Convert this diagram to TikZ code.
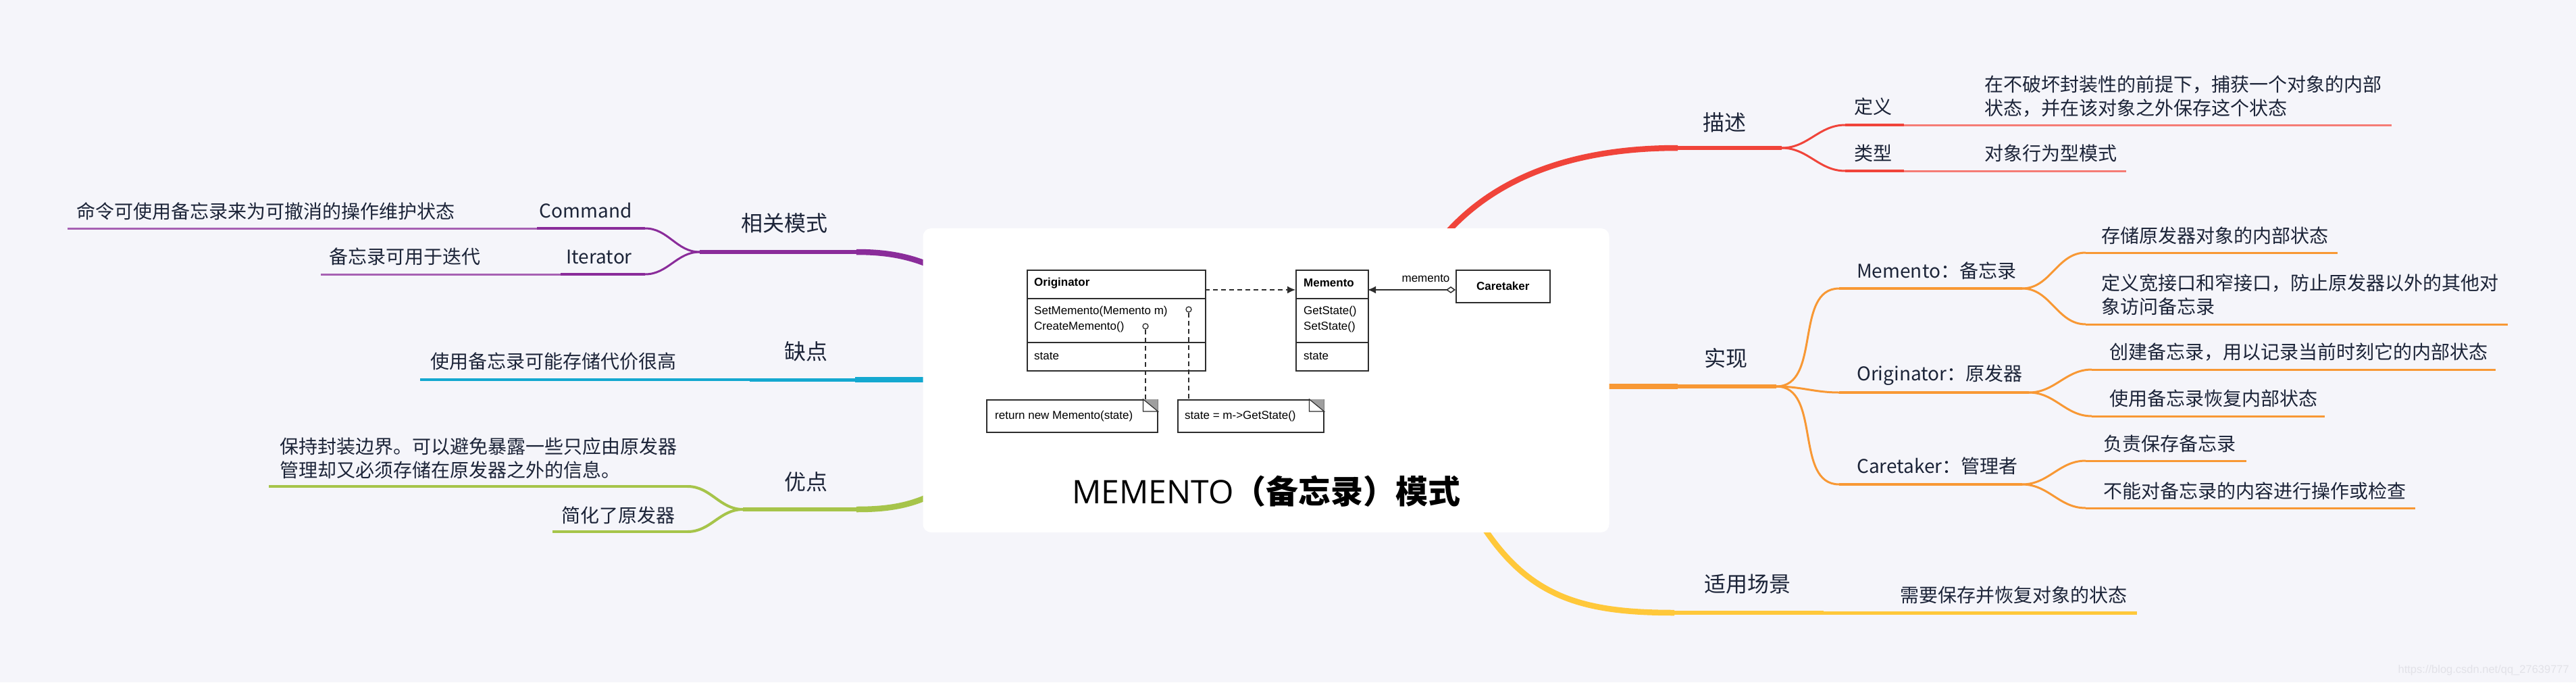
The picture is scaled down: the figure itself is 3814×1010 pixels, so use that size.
\documentclass[tikz,border=0pt]{standalone}
\usepackage{fontspec}
\setmainfont{Noto Sans CJK SC}
\newfontfamily\umlfont{Liberation Sans}
\newfontfamily\titlelatfont{Open Sans}
\usetikzlibrary{arrows.meta,calc}
\definecolor{bgc}{RGB}{245,245,250}
\definecolor{txt}{RGB}{28,36,56}
\definecolor{cred}{RGB}{240,68,58}
\definecolor{corange}{RGB}{248,152,52}
\definecolor{cyellow}{RGB}{255,200,58}
\definecolor{cgreen}{RGB}{166,196,74}
\definecolor{ccyan}{RGB}{20,168,208}
\definecolor{cpurple}{RGB}{138,44,154}
\definecolor{umlc}{RGB}{45,45,45}
\definecolor{wmark}{RGB}{226,226,232}
\begin{document}
\begin{tikzpicture}[x=1pt,y=-1pt,
  mainbr/.style={line width=8.5pt},
  topicbr/.style={line width=5.5pt},
  subbr/.style={line width=4.5pt},
  forkbr/.style={line width=3pt},
  leafbr/.style={line width=3pt},
  topictxt/.style={text=txt, inner sep=0pt, font=\fontsize{32}{38}\selectfont},
  subtxt/.style={text=txt, inner sep=0pt, font=\fontsize{28}{35}\selectfont},
  leaftxt/.style={text=txt, inner sep=0pt, font=\fontsize{28}{35}\selectfont, align=left},
  umlbox/.style={draw=umlc, line width=1.5pt, fill=white, inner sep=0pt, anchor=north west},
  umltxt/.style={text=black, inner sep=0pt, anchor=west, font=\umlfont\fontsize{17}{20}\selectfont},
  umlbold/.style={text=black, inner sep=0pt, font=\umlfont\bfseries\fontsize{17}{20}\selectfont},
  umlline/.style={draw=umlc, line width=1.5pt},
  umldash/.style={draw=umlc, line width=1.3pt, dash pattern=on 7pt off 5pt},
]
\useasboundingbox (0,0) rectangle (3814,1010);
\fill[bgc] (0,0) rectangle (3814,1010);

% ---------------- right side: 描述 (red)
\coordinate (rS) at (2120,372);
\coordinate (rA) at (2484,219);
\coordinate (rF) at (2638,219);
\coordinate (dy0) at (2732,185);
\coordinate (dy1) at (2819,185);
\coordinate (dyL) at (3541,185);
\coordinate (lx0) at (2732,253);
\coordinate (lx1) at (2819,253);
\coordinate (lxL) at (3148,253);
\draw[mainbr,cred] (rS) .. controls (2200,262) and (2330,219) .. (rA);
\draw[topicbr,cred] (rA) -- (rF);
\draw[forkbr,cred] (rF) to[out=0,in=180] (dy0);
\draw[forkbr,cred] (rF) to[out=0,in=180] (lx0);
\draw[subbr,cred] (dy0) -- (dy1);
\draw[subbr,cred] (lx0) -- (lx1);
\draw[leafbr,cred!70] (dy1) -- (dyL);
\draw[leafbr,cred!70] (lx1) -- (lxL);
\node[topictxt] (msT) at (2553,181) {描述};
\node[subtxt] (dyT) at (2773,158) {定义};
\node[subtxt] (lxT) at (2773,227) {类型};
\node[leaftxt, anchor=west] (dyLT) at (2938,143) {在不破坏封装性的前提下，捕获一个对象的内部\\状态，并在该对象之外保存这个状态};
\node[leaftxt, anchor=west] (lxLT) at (2938,227) {对象行为型模式};

% ---------------- right side: 实现 (orange)
\coordinate (oS) at (2300,572);
\coordinate (oA) at (2484,572);
\coordinate (oF) at (2630,572);
\coordinate (m0) at (2723,427);
\coordinate (m1) at (2994,427);
\coordinate (ma0) at (3088,374);
\coordinate (maL) at (3461,374);
\coordinate (mb0) at (3088,480);
\coordinate (mbL) at (3713,480);
\coordinate (g0) at (2723,581);
\coordinate (g1) at (3004,581);
\coordinate (ga0) at (3097,547);
\coordinate (gaL) at (3695,547);
\coordinate (gb0) at (3097,616);
\coordinate (gbL) at (3442,616);
\coordinate (k0) at (2723,717);
\coordinate (k1) at (2994,717);
\coordinate (ka0) at (3088,682);
\coordinate (kaL) at (3326,682);
\coordinate (kb0) at (3088,752);
\coordinate (kbL) at (3576,752);
\draw[mainbr,corange] (oS) -- (oA);
\draw[topicbr,corange] (oA) -- (oF);
\draw[forkbr,corange] (oF) to[out=0,in=180] (m0);
\draw[forkbr,corange] (oF) to[out=0,in=180] (g0);
\draw[forkbr,corange] (oF) to[out=0,in=180] (k0);
\draw[subbr,corange] (m0) -- (m1);
\draw[subbr,corange] (g0) -- (g1);
\draw[subbr,corange] (k0) -- (k1);
\draw[forkbr,corange] (m1) to[out=0,in=180] (ma0);
\draw[forkbr,corange] (m1) to[out=0,in=180] (mb0);
\draw[forkbr,corange] (g1) to[out=0,in=180] (ga0);
\draw[forkbr,corange] (g1) to[out=0,in=180] (gb0);
\draw[forkbr,corange] (k1) to[out=0,in=180] (ka0);
\draw[forkbr,corange] (k1) to[out=0,in=180] (kb0);
\draw[leafbr,corange] (ma0) -- (maL);
\draw[leafbr,corange] (mb0) -- (mbL);
\draw[leafbr,corange] (ga0) -- (gaL);
\draw[leafbr,corange] (gb0) -- (gbL);
\draw[leafbr,corange] (ka0) -- (kaL);
\draw[leafbr,corange] (kb0) -- (kbL);
\node[topictxt] (sxT) at (2555,530) {实现};
\node[subtxt, anchor=west] (mT) at (2749,401) {Memento：备忘录};
\node[subtxt, anchor=west] (gT) at (2749,555) {Originator：原发器};
\node[subtxt, anchor=west] (kT) at (2749,690) {Caretaker：管理者};
\node[leaftxt, anchor=west] (maT) at (3111,349) {存储原发器对象的内部状态};
\node[leaftxt, anchor=west] (mbT) at (3111,436) {定义宽接口和窄接口，防止原发器以外的其他对\\象访问备忘录};
\node[leaftxt, anchor=west] (gaT) at (3123,521) {创建备忘录，用以记录当前时刻它的内部状态};
\node[leaftxt, anchor=west] (gbT) at (3123,590) {使用备忘录恢复内部状态};
\node[leaftxt, anchor=west] (kaT) at (3114,657) {负责保存备忘录};
\node[leaftxt, anchor=west] (kbT) at (3114,727) {不能对备忘录的内容进行操作或检查};

% ---------------- right side: 适用场景 (yellow)
\coordinate (yS) at (2175,745);
\coordinate (yA) at (2479,907);
\coordinate (yB) at (2700,907);
\coordinate (yL) at (3164,907);
\draw[mainbr,cyellow] (yS) .. controls (2250,880) and (2330,907) .. (yA);
\draw[topicbr,cyellow] (yA) -- (yB);
\draw[line width=5pt,cyellow] (yB) -- (yL);
\node[topictxt] (yT) at (2587,865) {适用场景};
\node[leaftxt, anchor=west] (yLT) at (2813,881) {需要保存并恢复对象的状态};

% ---------------- left side: 相关模式 (purple)
\coordinate (pS) at (1440,430);
\coordinate (pA) at (1268,373);
\coordinate (pF) at (1036,373);
\coordinate (c0) at (955,338);
\coordinate (c1) at (795,338);
\coordinate (cL) at (100,338);
\coordinate (i0) at (955,406);
\coordinate (i1) at (830,406);
\coordinate (iL) at (475,406);
\draw[mainbr,cpurple] (pS) .. controls (1380,385) and (1330,373) .. (pA);
\draw[topicbr,cpurple] (pA) -- (pF);
\draw[forkbr,cpurple] (pF) to[out=180,in=0] (c0);
\draw[forkbr,cpurple] (pF) to[out=180,in=0] (i0);
\draw[subbr,cpurple] (c0) -- (c1);
\draw[subbr,cpurple] (i0) -- (i1);
\draw[leafbr,cpurple!75] (c1) -- (cL);
\draw[leafbr,cpurple!75] (i1) -- (iL);
\node[topictxt] (pT) at (1161,330) {相关模式};
\node[subtxt, anchor=east] (cT) at (936,312) {Command};
\node[subtxt, anchor=east] (iT) at (936,380) {Iterator};
\node[leaftxt, anchor=east] (cLT) at (674,313) {命令可使用备忘录来为可撤消的操作维护状态};
\node[leaftxt, anchor=east] (iLT) at (712,380) {备忘录可用于迭代};

% ---------------- left side: 缺点 (cyan)
\coordinate (qS) at (1450,562);
\coordinate (qA) at (1266,562);
\coordinate (qB) at (1110,562);
\coordinate (qL) at (622,562);
\draw[mainbr,ccyan] (qS) -- (qA);
\draw[line width=5pt,ccyan] (qA) -- (qB);
\draw[leafbr,line width=4pt,ccyan] (qB) -- (qL);
\node[topictxt] (qT) at (1193,520) {缺点};
\node[leaftxt, anchor=east] (qLT) at (1002,535) {使用备忘录可能存储代价很高};

% ---------------- left side: 优点 (green)
\coordinate (uS) at (1440,690);
\coordinate (uA) at (1268,754);
\coordinate (uF) at (1100,754);
\coordinate (ua0) at (1018,720);
\coordinate (uaL) at (398,720);
\coordinate (ub0) at (1018,787);
\coordinate (ubL) at (818,787);
\draw[mainbr,cgreen] (uS) .. controls (1380,745) and (1330,754) .. (uA);
\draw[topicbr,cgreen] (uA) -- (uF);
\draw[forkbr,line width=4pt,cgreen] (uF) to[out=180,in=0] (ua0);
\draw[forkbr,line width=4pt,cgreen] (uF) to[out=180,in=0] (ub0);
\draw[leafbr,line width=4pt,cgreen] (ua0) -- (uaL);
\draw[leafbr,line width=4pt,cgreen] (ub0) -- (ubL);
\node[topictxt] (uT) at (1193,713) {优点};
\node[leaftxt, anchor=west] (uaT) at (414,678) {保持封装边界。可以避免暴露一些只应由原发器\\管理却又必须存储在原发器之外的信息。};
\node[leaftxt, anchor=east] (ubT) at (1000,763) {简化了原发器};

% ---------------- central card
\node[fill=white, rounded corners=12pt, inner sep=0pt, minimum width=1016pt, minimum height=450pt] (card) at (1874.5,563) {};

% UML classes
\node[umlbox, minimum width=264pt, minimum height=42pt] (orgA) at (1520,399) {};
\node[umlbox, minimum width=264pt, minimum height=65pt] (orgB) at (1520,441) {};
\node[umlbox, minimum width=264pt, minimum height=42pt] (orgC) at (1520,506) {};
\node[umlbold, anchor=west] (orgN) at (1531,419) {Originator};
\node[umltxt] (orgM1) at (1531,461) {SetMemento(Memento m)};
\node[umltxt] (orgM2) at (1531,484) {CreateMemento()};
\node[umltxt] (orgS) at (1531,527) {state};

\node[umlbox, minimum width=107pt, minimum height=42pt] (memA) at (1918,399) {};
\node[umlbox, minimum width=107pt, minimum height=65pt] (memB) at (1918,441) {};
\node[umlbox, minimum width=107pt, minimum height=42pt] (memC) at (1918,506) {};
\node[umlbold, anchor=west] (memN) at (1930,419) {Memento};
\node[umltxt] (memM1) at (1930,461) {GetState()};
\node[umltxt] (memM2) at (1930,484) {SetState()};
\node[umltxt] (memS) at (1930,527) {state};

\node[umlbox, minimum width=139pt, minimum height=48pt] (ctk) at (2155,399) {};
\node[umlbold] (ctkN) at (ctk.center) {Caretaker};

% associations
\coordinate (aOut) at (1784,429);
\coordinate (aIn) at (1918,429);
\coordinate (bOut) at (2155,429);
\coordinate (bIn) at (2025,429);
\draw[umldash, -{Latex[length=12pt,width=11pt]}] (aOut) -- (aIn);
\draw[umlline, {Diamond[open,fill=white,length=14pt,width=10pt]}-{Latex[length=12pt,width=11pt]}] (bOut) -- (bIn);
\node[umltxt, anchor=center] (lblm) at (2111,412) {memento};

% notes
\node[umlbox, minimum width=253pt, minimum height=48pt] (n1) at (1460,591) {};
\node[umlbox, minimum width=216pt, minimum height=48pt] (n2) at (1743,591) {};
\fill[gray!75] ($(n1.north east)+(-22,0)$) -- (n1.north east) -- ($(n1.north east)+(0,18)$) -- cycle;
\draw[umlline, line width=1.2pt, fill=white] ($(n1.north east)+(-22,0)$) -- ($(n1.north east)+(-22,18)$) -- ($(n1.north east)+(0,18)$) -- cycle;
\fill[gray!75] ($(n2.north east)+(-22,0)$) -- (n2.north east) -- ($(n2.north east)+(0,18)$) -- cycle;
\draw[umlline, line width=1.2pt, fill=white] ($(n2.north east)+(-22,0)$) -- ($(n2.north east)+(-22,18)$) -- ($(n2.north east)+(0,18)$) -- cycle;
\node[umltxt] (n1T) at (1473,616) {return new Memento(state)};
\node[umltxt] (n2T) at (1754,616) {state = m->GetState()};

% lollipops
\node[circle, draw=umlc, line width=1.3pt, fill=white, inner sep=0pt, minimum size=8pt] (lp1) at (1760,458) {};
\node[circle, draw=umlc, line width=1.3pt, fill=white, inner sep=0pt, minimum size=8pt] (lp2) at (1696,483) {};
\draw[umldash] (lp1.south) -- (lp1.south |- n2.north);
\draw[umldash] (lp2.south) -- (lp2.south |- n1.north);

% title
\node[text=black, inner sep=0pt, font=\fontsize{48}{56}\selectfont] (title) at (1875,727) {{\titlelatfont MEMENTO}{\bfseries （备忘录）模式}};

% watermark
\node[text=wmark, inner sep=0pt, anchor=east, font=\umlfont\fontsize{16.5}{20}\selectfont] (wm) at (3804,992) {https://blog.csdn.net/qq\_27639777};
\end{tikzpicture}
\end{document}
